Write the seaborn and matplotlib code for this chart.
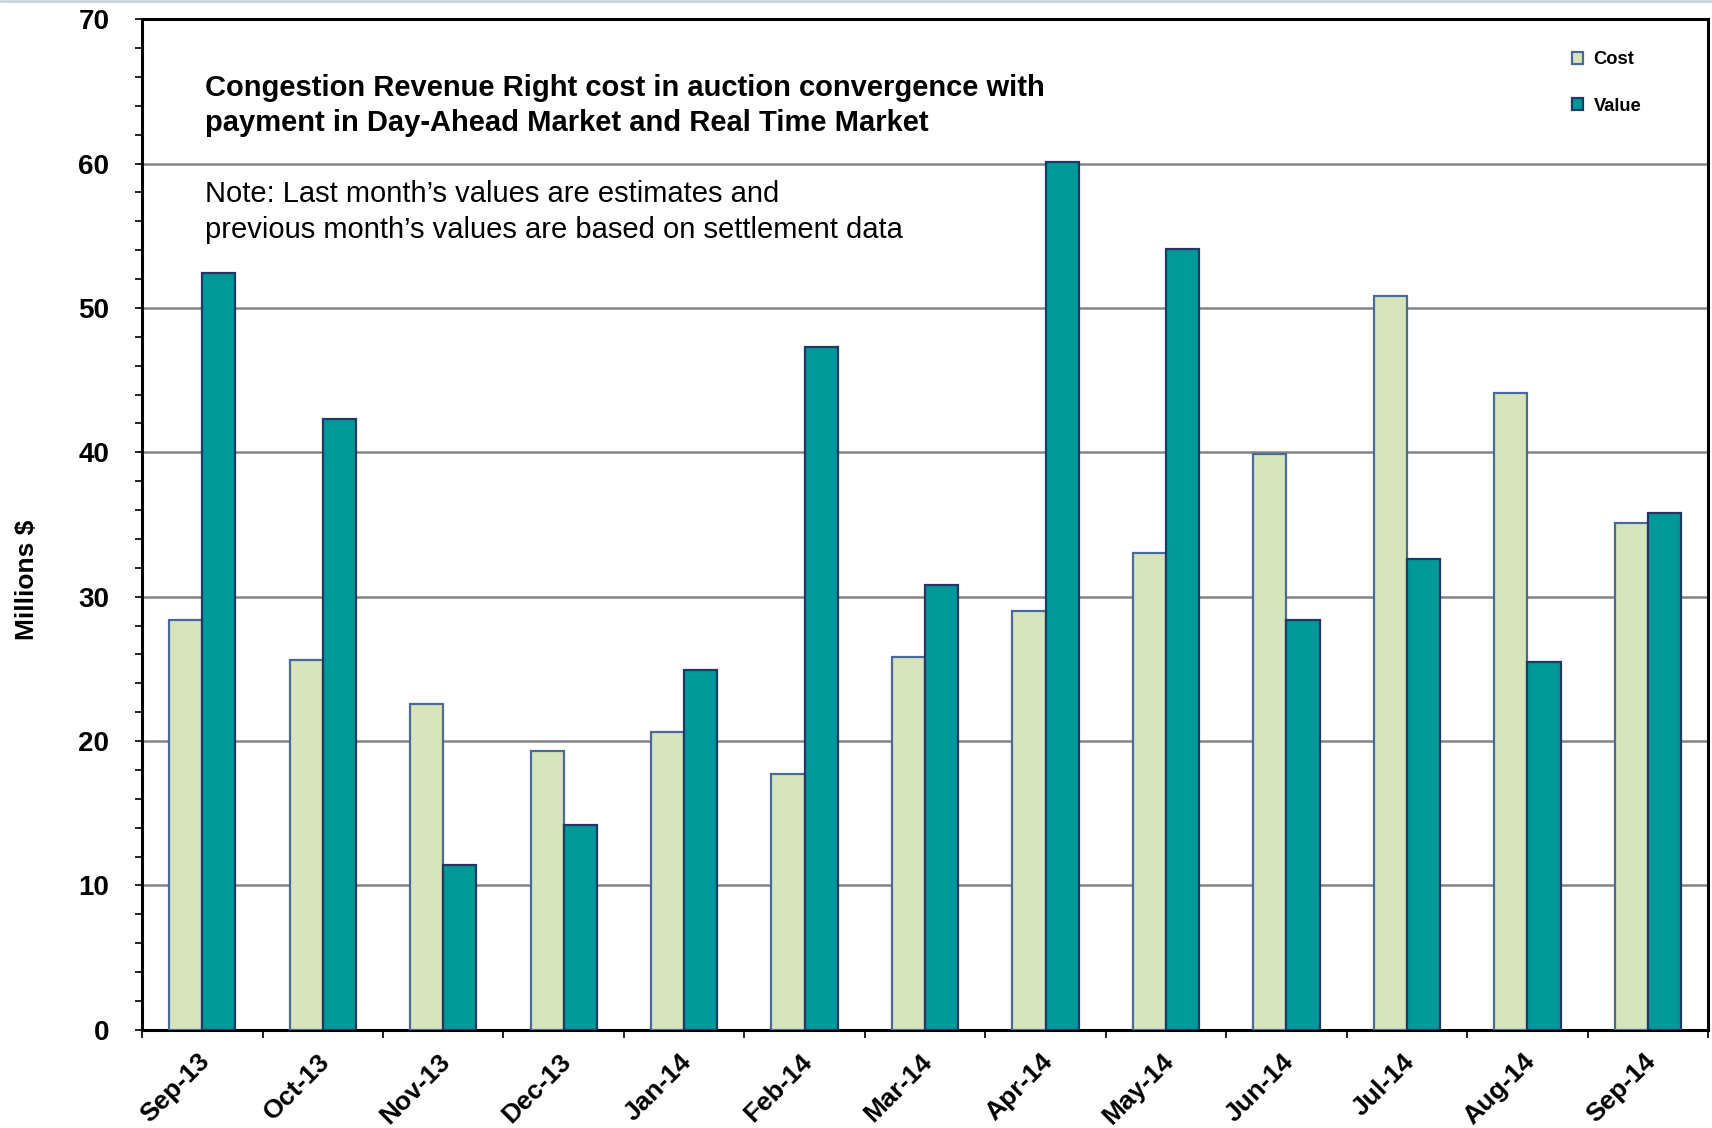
import matplotlib
matplotlib.use("Agg")
import matplotlib.pyplot as plt
import matplotlib.transforms as mtrans
import seaborn as sns
import pandas as pd
import numpy as np
from matplotlib.ticker import MultipleLocator, FixedLocator
from matplotlib.patches import Patch

months = ["Sep-13", "Oct-13", "Nov-13", "Dec-13", "Jan-14", "Feb-14", "Mar-14",
          "Apr-14", "May-14", "Jun-14", "Jul-14", "Aug-14", "Sep-14"]
cost = [28.4, 25.6, 22.6, 19.3, 20.6, 17.7, 25.8, 29.0, 33.0, 39.9, 50.8, 44.1, 35.1]
value = [52.4, 42.3, 11.4, 14.2, 24.9, 47.3, 30.8, 60.1, 54.1, 28.4, 32.6, 25.5, 35.8]
series = ["Cost", "Value"]

colors = {"Cost": "#D8E4BC", "Value": "#009999"}
edges = {"Cost": "#4A6A9A", "Value": "#1F3864"}

df = pd.DataFrame({
    "Month": months * 2,
    "Millions": cost + value,
    "Series": ["Cost"] * len(months) + ["Value"] * len(months),
})

sns.set_theme(style="white")
plt.rcParams["font.family"] = ["Liberation Sans", "DejaVu Sans"]
plt.rcParams["text.color"] = "black"
plt.rcParams["axes.labelcolor"] = "black"
plt.rcParams["xtick.color"] = "black"
plt.rcParams["ytick.color"] = "black"

fig = plt.figure(figsize=(17.12, 11.28), dpi=100)
ax = fig.add_axes([0.083, 0.087, 0.9147, 0.896])

sns.barplot(data=df, x="Month", y="Millions", hue="Series", order=months,
            hue_order=series, palette=colors, width=0.55, gap=0,
            saturation=1, ax=ax, legend=False, zorder=3)

for cont, s in zip(ax.containers, series):
    for p in cont:
        p.set_edgecolor(edges[s])
        p.set_linewidth(1.6)

ax.set_ylim(0, 70)
ax.set_xlim(-0.5, len(months) - 0.5)
ax.yaxis.set_major_locator(MultipleLocator(10))
ax.yaxis.set_minor_locator(MultipleLocator(2))
ax.yaxis.grid(True, which="major", color="#858585", linewidth=1.8, zorder=0)
ax.set_axisbelow(True)

ax.xaxis.set_minor_locator(FixedLocator(np.arange(-0.5, len(months), 1.0)))
ax.tick_params(axis="x", which="major", length=0, pad=14)
ax.tick_params(axis="x", which="minor", length=6, width=1.2, color="black", direction="out", bottom=True)
ax.tick_params(axis="y", which="both", length=5, width=1.2, color="black", direction="out", left=True, pad=18.5)

ax.set_xticks(range(len(months)))
ax.set_xticklabels(months, rotation=45, ha="right", rotation_mode="anchor",
                   fontsize=19, fontweight="bold")
shift = mtrans.ScaledTranslation(-0.05, 0, fig.dpi_scale_trans)
for lab in ax.get_xticklabels():
    lab.set_transform(lab.get_transform() + shift)
for lab in ax.get_yticklabels():
    lab.set_fontsize(20)
    lab.set_fontweight("bold")

ax.set_xlabel("")
ax.set_ylabel("Millions $", fontsize=19, fontweight="bold")
ax.yaxis.set_label_coords(-0.066, 0.445)

for sp in ax.spines.values():
    sp.set_color("black")
    sp.set_linewidth(2.2)
    sp.set_visible(True)

ax.text(0.040, 0.9455, "Congestion Revenue Right cost in auction convergence with\npayment in Day-Ahead Market and Real Time Market",
        transform=ax.transAxes, fontsize=21, fontweight="bold", va="top", ha="left",
        linespacing=1.31)
ax.text(0.040, 0.8407, "Note: Last month\u2019s values are estimates and\nprevious month\u2019s values are based on settlement data",
        transform=ax.transAxes, fontsize=21, va="top", ha="left", linespacing=1.35)

handles = [Patch(facecolor=colors[s], edgecolor=edges[s], linewidth=1.6, label=s) for s in series]
leg = ax.legend(handles=handles, loc="upper right", bbox_to_anchor=(0.968, 0.9845),
                frameon=False, handlelength=0.6, handleheight=0.6, handletextpad=0.6,
                labelspacing=1.6, prop={"size": 13.2, "weight": "bold"})

fig.add_artist(plt.Line2D([0, 1], [0.999, 0.999], transform=fig.transFigure,
                          color="#C9D6E0", linewidth=2))

fig.savefig("out.png", dpi=100)
